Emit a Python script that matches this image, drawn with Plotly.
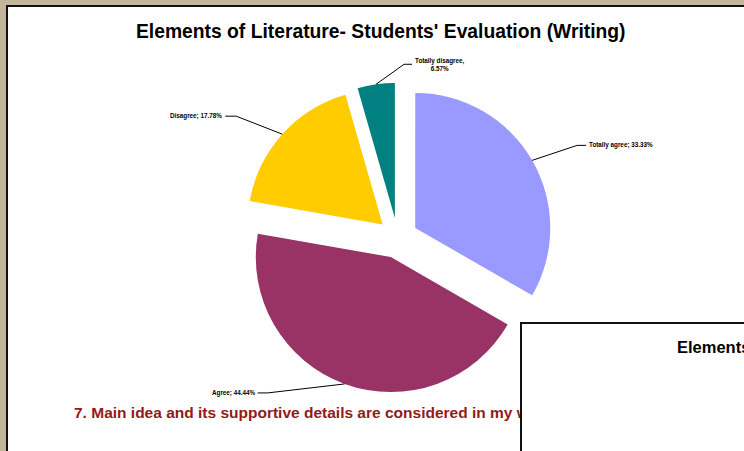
import math
import plotly.graph_objects as go

# ---- data ----
categories = ["Totally agree", "Agree", "Disagree", "Totally disagree"]
values = [33.33, 44.44, 17.78, 4.45]
pct_labels = ["33.33%", "44.44%", "17.78%", "6.57%"]
colors = ["#9999FF", "#993366", "#FFCC00", "#008080"]
title_text = "Elements of Literature- Students' Evaluation (Writing)"
statement = "7. Main idea and its supportive details are considered in my writing."

W, H = 744, 451
PULL = 0.15
DOM_X = [0.2657, 0.8034]
DOM_Y = [0.128, 0.8165]

FONT = "Arial, Liberation Sans, sans-serif"

def px2paper(x, y):
    return x / W, 1 - y / H

# pie geometry as plotly computes it (margins are zero)
rx = W * (DOM_X[1] - DOM_X[0]) / 2
ry = H * (DOM_Y[1] - DOM_Y[0]) / 2
R = min(rx, ry) / (1 + PULL)
CX = W * (DOM_X[0] + DOM_X[1]) / 2
CY = H * (1 - DOM_Y[0]) - ry

fig = go.Figure()
fig.add_trace(go.Pie(
    labels=categories, values=values, sort=False, direction="clockwise",
    rotation=0, pull=[PULL] * 4, marker=dict(colors=colors, line=dict(width=0)),
    textinfo="none", hoverinfo="label+percent", showlegend=False,
    domain=dict(x=DOM_X, y=DOM_Y),
))

# label placement (pixel offsets: elbow, horizontal tail)
label_texts = ["Totally agree; " + pct_labels[0], "Agree; " + pct_labels[1],
               "Disagree; " + pct_labels[2], "Totally disagree,<br>" + pct_labels[3]]
elbows = [(45, -15, 9), (-77, 9, -10), (-46, -18, -11), (28, -20, 8)]

shapes = []
annotations = []
total = sum(values)
cum = 0
for i, v in enumerate(values):
    mid = (cum + v / 2) / total * 2 * math.pi
    cum += v
    dx, dy = math.sin(mid), -math.cos(mid)
    ax_ = CX + (R * PULL + R) * dx
    ay_ = CY + (R * PULL + R) * dy
    ex, ey, tail = elbows[i]
    p1 = (ax_ + ex, ay_ + ey)
    p2 = (p1[0] + tail, p1[1])
    a = px2paper(ax_, ay_); b = px2paper(*p1); c = px2paper(*p2)
    shapes.append(dict(type="path", xref="paper", yref="paper",
                       path=f"M {a[0]},{a[1]} L {b[0]},{b[1]} L {c[0]},{c[1]}",
                       line=dict(color="black", width=1)))
    annotations.append(dict(x=c[0], y=c[1], xref="paper", yref="paper",
                            text="<b>" + label_texts[i] + "</b>", showarrow=False,
                            xanchor="left" if tail > 0 else "right", yanchor="middle",
                            align="center", font=dict(family=FONT, size=6.3, color="black"),
                            xshift=1 if tail > 0 else -1))

# white chart area with dark top/left border
x0, y0 = px2paper(7, 6)
shapes.insert(0, dict(type="rect", xref="paper", yref="paper", x0=x0, y0=-0.05, x1=1.05, y1=y0,
                      fillcolor="white", line=dict(color="#111111", width=2), layer="below"))

tx, ty = px2paper(381, 32)
annotations.append(dict(x=tx, y=ty, xref="paper", yref="paper", showarrow=False,
                        text="<b>" + title_text + "</b>", xanchor="center", yanchor="middle",
                        font=dict(family=FONT, size=19.3, color="black")))

sx, sy = px2paper(72, 412)
annotations.append(dict(x=sx, y=sy, xref="paper", yref="paper", showarrow=False,
                        text="<b>" + statement + "</b>", xanchor="left", yanchor="middle",
                        font=dict(family=FONT, size=15.5, color="#921A1A")))

# second (overlapping) chart box
bx, by = px2paper(520, 322)
annotations.append(dict(x=bx, y=by, xref="paper", yref="paper", showarrow=False,
                        text=" ", xanchor="left", yanchor="top", width=400, height=200,
                        bgcolor="white", bordercolor="#111111", borderwidth=2, borderpad=0))
ex_, ey_ = px2paper(675, 347)
annotations.append(dict(x=ex_, y=ey_, xref="paper", yref="paper", showarrow=False,
                        text="<b>" + title_text + "</b>", xanchor="left", yanchor="middle",
                        font=dict(family=FONT, size=16.5, color="black")))

fig.update_layout(
    width=W, height=H, margin=dict(l=0, r=0, t=0, b=0),
    paper_bgcolor="#C4B69C", plot_bgcolor="white",
    shapes=shapes, annotations=annotations, showlegend=False,
)
fig.write_html("out.html", config={"displayModeBar": False},
               post_script="document.body.style.margin='0';document.body.style.overflow='hidden';")
